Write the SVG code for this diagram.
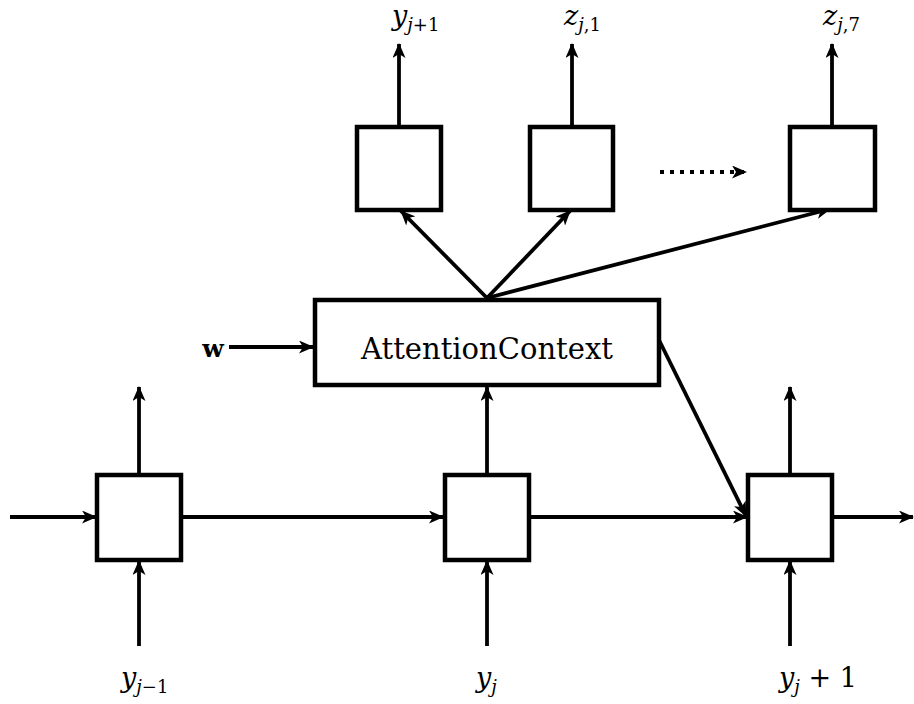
<svg xmlns="http://www.w3.org/2000/svg" width="914" height="704" viewBox="0 0 914 704">
  <style>
    .box { fill: #fff; stroke: #000; stroke-width: 4.5; }
    .edge { fill: none; stroke: #000; stroke-width: 3.8; marker-end: url(#arrow); }
    .dots { fill: none; stroke: #000; stroke-width: 3.8; stroke-dasharray: 4 6; marker-end: url(#arrow); }
    text { font-family: "DejaVu Serif", "Liberation Serif", serif; }
    .math { font-style: italic; font-size: 27px; }
    .sub { font-size: 18px; }
    .rm { font-style: normal; }
    .label { font-size: 29px; }
  </style>
  <defs>
    <marker id="arrow" viewBox="0 0 15 13" refX="14" refY="6.5" markerWidth="15" markerHeight="13" markerUnits="userSpaceOnUse" orient="auto">
      <path d="M0,0 L15,6.5 L0,13 L4,6.5 Z" fill="#000"/>
    </marker>
  </defs>

  <rect width="914" height="704" fill="#fff"/>

  <g id="connectors">
    <!-- outputs of the upper cells -->
    <line class="edge" x1="399" y1="127" x2="399" y2="44"/>
    <line class="edge" x1="572" y1="127" x2="572" y2="44"/>
    <line class="edge" x1="832" y1="127" x2="832" y2="44"/>
    <polyline class="dots" points="660,172 746,172"/>
    <!-- attention context fan-out -->
    <line class="edge" x1="487" y1="298" x2="401" y2="211"/>
    <line class="edge" x1="487" y1="298" x2="570" y2="211"/>
    <line class="edge" x1="487" y1="298" x2="830" y2="209"/>
    <!-- w input -->
    <line class="edge" x1="229" y1="347" x2="313" y2="347"/>
    <!-- attention context into the next cell -->
    <line class="edge" x1="659" y1="340" x2="746" y2="516"/>
    <!-- recurrent chain -->
    <line class="edge" x1="10" y1="517" x2="96" y2="517"/>
    <line class="edge" x1="182" y1="517" x2="443" y2="517"/>
    <line class="edge" x1="530" y1="517" x2="747" y2="517"/>
    <line class="edge" x1="833" y1="517" x2="913" y2="517"/>
    <!-- cell outputs -->
    <line class="edge" x1="139" y1="475" x2="139" y2="387"/>
    <line class="edge" x1="487" y1="475" x2="487" y2="387"/>
    <line class="edge" x1="790" y1="475" x2="790" y2="387"/>
    <!-- cell inputs -->
    <line class="edge" x1="139" y1="646" x2="139" y2="561"/>
    <line class="edge" x1="487" y1="646" x2="487" y2="561"/>
    <line class="edge" x1="790" y1="646" x2="790" y2="561"/>
  </g>

  <g id="out-y">
    <rect class="box" x="357" y="127" width="84" height="83"/>
    <text class="math" x="392" y="25">y<tspan class="sub" dy="6">j</tspan><tspan class="sub rm">+1</tspan></text>
  </g>
  <g id="out-z1">
    <rect class="box" x="530" y="127" width="83" height="83"/>
    <text class="math" x="564" y="25">z<tspan class="sub" dy="6">j</tspan><tspan class="sub rm">,1</tspan></text>
  </g>
  <g id="out-z7">
    <rect class="box" x="790" y="127" width="85" height="83"/>
    <text class="math" x="823" y="25">z<tspan class="sub" dy="6">j</tspan><tspan class="sub rm">,7</tspan></text>
  </g>

  <g id="attention">
    <rect class="box" x="315" y="300" width="344" height="85"/>
    <text class="label" x="487" y="359" text-anchor="middle">AttentionContext</text>
  </g>
  <g id="w">
    <text x="213" y="357" text-anchor="middle" font-size="25" font-weight="bold">w</text>
  </g>

  <g id="cell-prev">
    <rect class="box" x="97" y="475" width="84" height="85"/>
    <text class="math" x="121" y="687">y<tspan class="sub" dy="6">j</tspan><tspan class="sub rm">−1</tspan></text>
  </g>
  <g id="cell-cur">
    <rect class="box" x="445" y="475" width="84" height="85"/>
    <text class="math" x="476" y="687">y<tspan class="sub" dy="6">j</tspan></text>
  </g>
  <g id="cell-next">
    <rect class="box" x="748" y="475" width="84" height="85"/>
    <text class="math" x="779" y="687">y<tspan class="sub" dy="6">j</tspan><tspan class="rm" dy="-6"> + 1</tspan></text>
  </g>
</svg>
